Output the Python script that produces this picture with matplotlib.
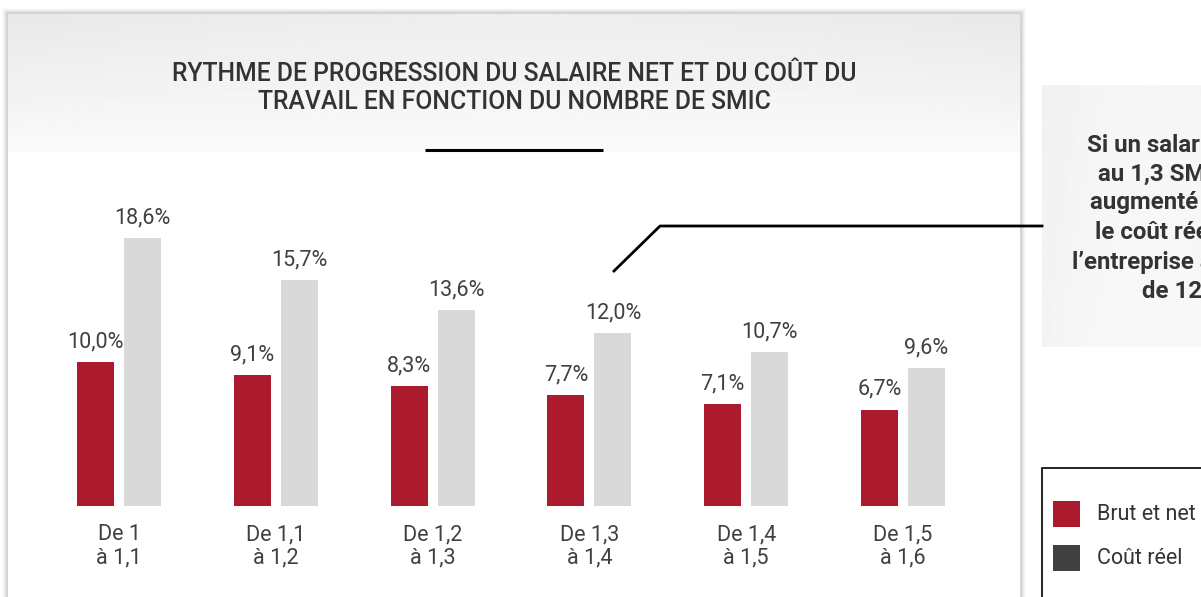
import matplotlib
matplotlib.use("Agg")
import matplotlib.pyplot as plt
import numpy as np
from matplotlib.patches import Rectangle

# ---- data ----
categories = ["De 1\nà 1,1", "De 1,1\nà 1,2", "De 1,2\nà 1,3", "De 1,3\nà 1,4", "De 1,4\nà 1,5", "De 1,5\nà 1,6"]
brut_net = [10.0, 9.1, 8.3, 7.7, 7.1, 6.7]
cout_reel = [18.6, 15.7, 13.6, 12.0, 10.7, 9.6]
title_lines = ["RYTHME DE PROGRESSION DU SALAIRE NET ET DU COÛT DU",
               "TRAVAIL EN FONCTION DU NOMBRE DE SMIC"]
legend_labels = ["Brut et net", "Coût réel"]
callout_lines = ["Si un salarié", "au 1,3 SMIC est", "augmenté de 1 %,",
                 "le coût réel pour", "l’entreprise augmente", "de 12 %"]

RED = "#ab1a2d"
LIGHT = "#d9d9d9"
DARK = "#404040"
TXT = "#404040"

plt.rcParams['font.family'] = ['Roboto', 'DejaVu Sans']

W, H = 1201, 597
fig = plt.figure(figsize=(W / 100, H / 100), dpi=100)
fig.patch.set_facecolor("white")

# background axes in pixel coordinates (y downward)
bg = fig.add_axes([0, 0, 1, 1])
bg.set_xlim(0, W)
bg.set_ylim(H, 0)
bg.axis("off")

# card shadow
for i, a in enumerate([0.015, 0.025, 0.035, 0.045, 0.055]):
    d = 6 - i
    bg.add_patch(Rectangle((8 - d, 14 - d), 1012 + 2 * d, 620, facecolor="black",
                           alpha=a, edgecolor="none", zorder=1))
bg.add_patch(Rectangle((8, 14), 1012, 620, facecolor="white", edgecolor="none", zorder=2))

# header gradient
yy = np.linspace(0, 1, 60)[:, None]
xx = np.linspace(-1, 1, 200)[None, :]
grad = 0.93 + 0.052 * yy - 0.02 * (xx ** 2) * (1 - yy)
bg.imshow(grad, extent=(8, 1020, 152, 14), cmap="gray", vmin=0, vmax=1,
          aspect="auto", zorder=3, interpolation="bilinear")
for t, y in zip(title_lines, [74, 102]):
    bg.text(514, y, t, ha="center", va="center", fontsize=17.8, fontweight="medium",
            color="#333333", zorder=5)
bg.plot([425, 603], [150, 150], color="black", lw=2.2, zorder=5, solid_capstyle="butt")

# callout box
yy2 = np.linspace(0, 1, 60)[:, None]
xx2 = np.linspace(-1, 1, 100)[None, :]
grad2 = 0.955 + 0.02 * (1 - xx2 ** 2) - 0.01 * (1 - yy2)
bg.imshow(grad2, extent=(1042, 1260, 347, 85), cmap="gray", vmin=0, vmax=1,
          aspect="auto", zorder=3, interpolation="bilinear")
callout_x = [1087, 1098, 1090, 1095, 1072, 1142]
callout_y = [145, 174, 203, 232, 262, 291]
for t, x, y in zip(callout_lines, callout_x, callout_y):
    bg.text(x, y, t, ha="left", va="center", fontsize=17.3, fontweight="bold",
            color="#333333", zorder=5)

# connector line
bg.plot([614, 660, 1042], [271, 226, 226], color="black", lw=2, zorder=6)
bg.set_xlim(0, W)
bg.set_ylim(H, 0)

# legend box
bg.add_patch(Rectangle((1042, 468), 200, 150, facecolor="white", edgecolor="black",
                       lw=1.2, zorder=4))
for i, (lab, col) in enumerate(zip(legend_labels, [RED, DARK])):
    y0 = 501 + i * 44
    bg.add_patch(Rectangle((1053, y0), 27, 26, facecolor=col, edgecolor="none", zorder=5))
    bg.text(1097, y0 + 13, lab, ha="left", va="center", fontsize=15.5, color="#333333", zorder=5)

# bar axes
base_px = 506
px_per_unit_y = 14.4
ax_h = 400
ax = fig.add_axes([0, (H - base_px) / H, 1020 / W, ax_h / H])
ax.patch.set_alpha(0)
xs = 156.8
first = 119
ax.set_xlim(-first / xs, (1020 - first) / xs)
ax.set_ylim(0, ax_h / px_per_unit_y)
ax.axis("off")
x = np.arange(len(categories))
bw = 37 / xs
off = 23.5 / xs
b1 = ax.bar(x - off, brut_net, bw, color=RED, zorder=3)
b2 = ax.bar(x + off, cout_reel, bw, color=LIGHT, zorder=3)
for bars, vals in [(b1, brut_net), (b2, cout_reel)]:
    for r, v in zip(bars, vals):
        ax.annotate(f"{v:.1f}%".replace(".", ","), (r.get_x() + r.get_width() / 2, v),
                    xytext=(0, 7), textcoords="offset points", ha="center", va="bottom",
                    fontsize=15.5, color=TXT)
for xi, lab in zip(x, categories):
    ax.annotate(lab, (xi, 0), xytext=(0, -13), textcoords="offset points",
                ha="center", va="top", fontsize=15.5, color=TXT, linespacing=1.15,
                annotation_clip=False)

fig.savefig("out.png", dpi=100, facecolor="white")
